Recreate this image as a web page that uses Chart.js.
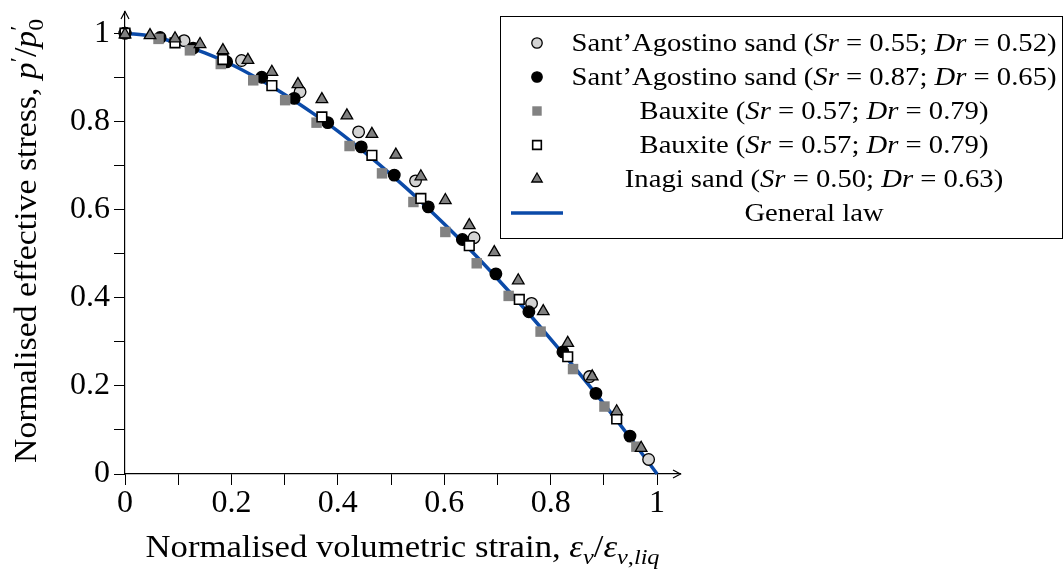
<!DOCTYPE html>
<html>
<head>
<meta charset="utf-8">
<script src="https://cdn.jsdelivr.net/npm/chart.js@4.4.1/dist/chart.umd.min.js"></script>
<style>
html, body { margin: 0; padding: 0; background: #ffffff; }
#wrap { width: 1063px; height: 570px; position: relative; }
</style>
</head>
<body>
<div id="wrap"><canvas id="c" width="1063" height="570"></canvas></div>
<script>
// ---------- tick values / labels ----------
const tickValues = [0, 0.1, 0.2, 0.3, 0.4, 0.5, 0.6, 0.7, 0.8, 0.9, 1];
const tickLabels = ['0', '', '0.2', '', '0.4', '', '0.6', '', '0.8', '', '1'];

// ---------- series ----------
// Sant'Agostino sand (Sr = 0.55; Dr = 0.52) - light grey circles
const sa055X = [0, 0.111, 0.219, 0.329, 0.439, 0.546, 0.656, 0.764, 0.873, 0.984];
const sa055Y = [1, 0.983, 0.938, 0.867, 0.776, 0.665, 0.536, 0.387, 0.221, 0.033];

// Sant'Agostino sand (Sr = 0.87; Dr = 0.65) - black circles
const sa087X = [0, 0.066, 0.128, 0.191, 0.257, 0.318, 0.381, 0.444, 0.506, 0.570, 0.634, 0.697, 0.759, 0.823, 0.885, 0.949];
const sa087Y = [1, 0.990, 0.966, 0.935, 0.900, 0.852, 0.797, 0.742, 0.678, 0.606, 0.532, 0.454, 0.368, 0.277, 0.183, 0.086];

// Bauxite (Sr = 0.57; Dr = 0.79) - filled grey squares
const bauxAX = [0, 0.063, 0.122, 0.180, 0.241, 0.301, 0.360, 0.422, 0.483, 0.542, 0.602, 0.661, 0.721, 0.781, 0.842, 0.901, 0.961];
const bauxAY = [1, 0.987, 0.961, 0.930, 0.893, 0.848, 0.797, 0.744, 0.682, 0.617, 0.549, 0.478, 0.404, 0.323, 0.238, 0.153, 0.062];

// Bauxite (Sr = 0.57; Dr = 0.79) - open squares
const bauxBX = [0, 0.094, 0.184, 0.276, 0.370, 0.464, 0.556, 0.647, 0.741, 0.832, 0.924];
const bauxBY = [1, 0.978, 0.940, 0.881, 0.810, 0.723, 0.625, 0.518, 0.396, 0.266, 0.125];

// Inagi sand (Sr = 0.50; Dr = 0.63) - grey triangles
const inagiX = [0, 0.047, 0.094, 0.141, 0.184, 0.231, 0.276, 0.325, 0.370, 0.417, 0.464, 0.509, 0.556, 0.602, 0.647, 0.694, 0.739, 0.786, 0.832, 0.878, 0.924, 0.970];
const inagiY = [0.997, 0.995, 0.988, 0.975, 0.961, 0.939, 0.912, 0.884, 0.850, 0.813, 0.771, 0.724, 0.675, 0.621, 0.564, 0.503, 0.439, 0.369, 0.297, 0.221, 0.142, 0.059];

// General law
const lawX = [0, 0.05, 0.1, 0.15, 0.2, 0.25, 0.3, 0.35, 0.4, 0.45, 0.5, 0.55, 0.6, 0.65, 0.7, 0.75, 0.8, 0.85, 0.9, 0.95, 1];
const lawY = [1, 0.993, 0.977, 0.955, 0.929, 0.897, 0.861, 0.821, 0.778, 0.730, 0.679, 0.625, 0.567, 0.507, 0.443, 0.376, 0.306, 0.234, 0.159, 0.081, 0];

// ---------- legend texts ----------
const legendRows = [
  [{t: 'Sant\u2019Agostino sand ('}, {t: 'Sr', i: 1}, {t: ' = 0.55; '}, {t: 'Dr', i: 1}, {t: ' = 0.52)'}],
  [{t: 'Sant\u2019Agostino sand ('}, {t: 'Sr', i: 1}, {t: ' = 0.87; '}, {t: 'Dr', i: 1}, {t: ' = 0.65)'}],
  [{t: 'Bauxite ('}, {t: 'Sr', i: 1}, {t: ' = 0.57; '}, {t: 'Dr', i: 1}, {t: ' = 0.79)'}],
  [{t: 'Bauxite ('}, {t: 'Sr', i: 1}, {t: ' = 0.57; '}, {t: 'Dr', i: 1}, {t: ' = 0.79)'}],
  [{t: 'Inagi sand ('}, {t: 'Sr', i: 1}, {t: ' = 0.50; '}, {t: 'Dr', i: 1}, {t: ' = 0.63)'}],
  [{t: 'General law'}]
];
const xTitle = [{t: 'Normalised volumetric strain, '}, {t: '\u03b5', i: 1}, {t: 'v', i: 1, s: 'sub'},
  {t: '/'}, {t: '\u03b5', i: 1}, {t: 'v', i: 1, s: 'sub'}, {t: ',', s: 'sub'}, {t: 'liq', i: 1, s: 'sub'}];
const yTitle = [{t: 'Normalised effective stress, '}, {t: 'p', i: 1}, {t: '\u2032', s: 'sup'},
  {t: '/'}, {t: 'p', i: 1}, {stack: ['\u2032', '0']}];

const FONT = '"Liberation Serif", "Times New Roman", serif';
const LAW_COLOR = '#0b4aa8';

function pts(xs, ys) { return xs.map((x, k) => ({x: x, y: ys[k]})); }

const markerStyles = [
  {style: 'circle', r: 5.8, fill: '#d3d3d3', stroke: '#000000', lw: 1.3},
  {style: 'circle', r: 5.8, fill: '#000000', stroke: '#000000', lw: 1.3},
  {style: 'rect', r: 7.4, fill: '#828282', stroke: '#828282', lw: 0},
  {style: 'rect', r: 6.8, fill: '#ffffff', stroke: '#000000', lw: 1.6},
  {style: 'triangle', r: 6.7, fill: '#808080', stroke: '#000000', lw: 1.3}
];

function scatterSet(label, xs, ys, m, order) {
  return {
    type: 'scatter', label: label, data: pts(xs, ys), showLine: false, clip: false, order: order,
    pointStyle: m.style, pointRadius: m.r, pointHoverRadius: m.r,
    pointBackgroundColor: m.fill, pointBorderColor: m.stroke, pointBorderWidth: m.lw
  };
}

// ---------- rich text helpers ----------
function segFont(seg, size) {
  const sz = seg.s ? size * 0.7 : size;
  return (seg.i ? 'italic ' : '') + sz.toFixed(2) + 'px ' + FONT;
}
function richWidth(ctx, segs, size) {
  let w = 0;
  for (const seg of segs) {
    if (seg.stack) {
      ctx.font = (size * 0.7).toFixed(2) + 'px ' + FONT;
      w += Math.max(...seg.stack.map(t => ctx.measureText(t).width));
    } else {
      ctx.font = segFont(seg, size);
      w += ctx.measureText(seg.t).width;
    }
  }
  return w;
}
function drawRich(ctx, segs, size, x0, base) {
  let x = x0;
  for (const seg of segs) {
    if (seg.stack) {
      ctx.font = (size * 0.7).toFixed(2) + 'px ' + FONT;
      ctx.fillText(seg.stack[0], x, base - size * 0.36);
      ctx.fillText(seg.stack[1], x, base + size * 0.24);
      x += Math.max(...seg.stack.map(t => ctx.measureText(t).width));
    } else {
      ctx.font = segFont(seg, size);
      const dy = seg.s === 'sub' ? size * 0.24 : (seg.s === 'sup' ? -size * 0.36 : 0);
      ctx.fillText(seg.t, x, base + dy);
      x += ctx.measureText(seg.t).width;
    }
  }
}
function drawMarker(ctx, m, x, y, scale) {
  const r = m.r * scale;
  ctx.beginPath();
  if (m.style === 'circle') {
    ctx.arc(x, y, r, 0, Math.PI * 2);
  } else if (m.style === 'rect') {
    const h = Math.SQRT1_2 * r;
    ctx.rect(x - h, y - h, 2 * h, 2 * h);
  } else {
    for (let k = 0; k < 3; k++) {
      const a = k * 2 * Math.PI / 3;
      const px = x + Math.sin(a) * r, py = y - Math.cos(a) * r;
      if (k === 0) ctx.moveTo(px, py); else ctx.lineTo(px, py);
    }
    ctx.closePath();
  }
  ctx.fillStyle = m.fill;
  ctx.fill();
  if (m.lw > 0) { ctx.lineWidth = m.lw; ctx.strokeStyle = m.stroke; ctx.stroke(); }
}

const decorPlugin = {
  id: 'decor',
  afterDraw(chart) {
    const ctx = chart.ctx;
    const a = chart.chartArea;
    ctx.save();
    // axis arrowheads
    ctx.strokeStyle = '#000';
    ctx.lineWidth = 1.2;
    ctx.beginPath();
    ctx.moveTo(a.right - 7, a.bottom - 4); ctx.lineTo(a.right + 0.5, a.bottom); ctx.lineTo(a.right - 7, a.bottom + 4);
    ctx.moveTo(a.left - 4, a.top + 7); ctx.lineTo(a.left, a.top - 0.5); ctx.lineTo(a.left + 4, a.top + 7);
    ctx.stroke();

    ctx.fillStyle = '#000';
    ctx.textAlign = 'left';
    ctx.textBaseline = 'alphabetic';

    // x axis title
    const tSize = 31;
    const wx = richWidth(ctx, xTitle, tSize);
    ctx.save();
    ctx.translate((a.left + a.right) / 2, 557);
    ctx.scale(514 / wx, 1);
    drawRich(ctx, xTitle, tSize, -wx / 2, 0);
    ctx.restore();

    // y axis title
    const wy = richWidth(ctx, yTitle, tSize);
    ctx.save();
    ctx.translate(36, 241);
    ctx.rotate(-Math.PI / 2);
    ctx.scale(444 / wy, 1);
    drawRich(ctx, yTitle, tSize, -wy / 2, 0);
    ctx.restore();

    // legend box
    const L = {left: 500, top: 16, right: 1062, bottom: 238, markerX: 537, textCX: 814, rows: [43, 77, 111, 145, 179, 213]};
    ctx.fillStyle = '#fff';
    ctx.fillRect(L.left, L.top, L.right - L.left, L.bottom - L.top);
    ctx.strokeStyle = '#000';
    ctx.lineWidth = 1;
    ctx.strokeRect(L.left + 0.5, L.top + 0.5, L.right - L.left, L.bottom - L.top);

    const lSize = 25;
    const sx = 485 / richWidth(ctx, legendRows[0], lSize);
    legendRows.forEach((segs, k) => {
      const cy = L.rows[k];
      if (k < markerStyles.length) {
        drawMarker(ctx, markerStyles[k], L.markerX, cy, 0.9);
      } else {
        ctx.strokeStyle = LAW_COLOR;
        ctx.lineWidth = 3.5;
        ctx.beginPath();
        ctx.moveTo(L.markerX - 26, cy); ctx.lineTo(L.markerX + 26, cy);
        ctx.stroke();
      }
      ctx.fillStyle = '#000';
      const w = richWidth(ctx, segs, lSize);
      ctx.save();
      ctx.translate(L.textCX, cy + 8);
      ctx.scale(sx, 1);
      drawRich(ctx, segs, lSize, -w / 2, 0);
      ctx.restore();
    });
    ctx.restore();
  }
};

function axisOpts(isX) {
  return {
    type: 'linear',
    min: 0,
    max: isX ? 1.043 : 1.048,
    afterBuildTicks: s => { s.ticks = tickValues.map(v => ({value: v})); },
    afterFit: s => {
      if (isX) { s.height = 96; s.paddingLeft = 0; s.paddingRight = 0; }
      else { s.width = 125; s.paddingTop = 0; s.paddingBottom = 0; }
    },
    ticks: {
      autoSkip: false,
      maxRotation: 0,
      minRotation: 0,
      padding: isX ? -1 : 4,
      color: '#000',
      font: {family: FONT, size: 32},
      callback: (v, idx) => tickLabels[idx]
    },
    grid: {drawOnChartArea: false, drawTicks: true, tickLength: 11, color: '#000', lineWidth: 1},
    border: {display: true, color: '#000', width: 1.2},
    title: {display: false}
  };
}

new Chart(document.getElementById('c'), {
  type: 'scatter',
  data: {
    datasets: [
      scatterSet('Sant\u2019Agostino sand (Sr = 0.55; Dr = 0.52)', sa055X, sa055Y, markerStyles[0], 5),
      scatterSet('Sant\u2019Agostino sand (Sr = 0.87; Dr = 0.65)', sa087X, sa087Y, markerStyles[1], 4),
      scatterSet('Bauxite (Sr = 0.57; Dr = 0.79)', bauxAX, bauxAY, markerStyles[2], 3),
      scatterSet('Bauxite (Sr = 0.57; Dr = 0.79) ', bauxBX, bauxBY, markerStyles[3], 2),
      scatterSet('Inagi sand (Sr = 0.50; Dr = 0.63)', inagiX, inagiY, markerStyles[4], 1),
      {
        type: 'line', label: 'General law', data: pts(lawX, lawY), showLine: true, clip: false, order: 6,
        borderColor: LAW_COLOR, borderWidth: 3.5, pointRadius: 0, pointHoverRadius: 0,
        cubicInterpolationMode: 'monotone', fill: false
      }
    ]
  },
  options: {
    responsive: false,
    animation: false,
    events: [],
    devicePixelRatio: 1,
    layout: {autoPadding: false, padding: {left: 0, top: 12, right: 383, bottom: 0}},
    plugins: {legend: {display: false}, tooltip: {enabled: false}},
    scales: {x: axisOpts(true), y: axisOpts(false)}
  },
  plugins: [decorPlugin]
});
</script>
</body>
</html>
